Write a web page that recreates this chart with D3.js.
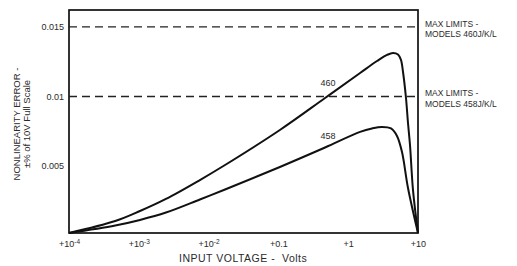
<!DOCTYPE html>
<html>
<head>
<meta charset="utf-8">
<script src="https://cdn.jsdelivr.net/npm/d3@7"></script>
<style>
  body {margin: 0; background: #fff;}
  svg {display: block; font-family: "Liberation Sans", Arial, sans-serif;}
  text {fill: #2a2a2a;}
</style>
</head>
<body>
<script>
const svgWidth = 517
const svgHeight = 266

// data
const xTicks = [1e-4, 1e-3, 1e-2, 0.1, 1, 10]
const xTickBase = ['+10', '+10', '+10', '+0.1', '+1', '+10']
const xTickExp = ['-4', '-3', '-2', '', '', '']
const yTicks = [0.005, 0.01, 0.015]
const yTickLabels = ['0.005', '0.01', '0.015']
const limits = [0.015, 0.01]
const limitLabels = [['MAX LIMITS -', 'MODELS 460J/K/L'], ['MAX LIMITS -', 'MODELS 458J/K/L']]

const volts460 = [1e-4, 4.6e-4, 1.04e-3, 2.45e-3, 7.5e-3, 0.0172, 0.105, 0.466, 1.48, 2.59, 3.6, 4.38, 5.17, 5.7, 6.1, 6.73, 7.19, 7.68, 8.48, 10]
const error460 = [0, 0.00104, 0.00176, 0.00263, 0.00399, 0.00507, 0.00759, 0.00989, 0.01169, 0.01255, 0.01299, 0.01313, 0.01302, 0.01263, 0.01176, 0.00989, 0.00809, 0.00651, 0.00327, 0]
const volts458 = [1e-4, 4.6e-4, 1.04e-3, 2.45e-3, 7.5e-3, 0.0172, 0.105, 0.466, 1.48, 2.19, 3.05, 4.1, 5.0, 5.9, 7.19, 10]
const error458 = [0, 0.00072, 0.00112, 0.00165, 0.00259, 0.00331, 0.00493, 0.00633, 0.00745, 0.0077, 0.00781, 0.0077, 0.00716, 0.006, 0.00342, 0]

const svg = d3.select('body').append('svg')
  .attr('width', svgWidth).attr('height', svgHeight)

const margin = {top: 10, right: 99, bottom: 33, left: 69}
const width = svgWidth - margin.left - margin.right
const height = svgHeight - margin.top - margin.bottom

const g = svg.append('g')
  .attr('transform', `translate(${margin.left},${margin.top})`)

const x = d3.scaleLog().domain([1e-4, 10]).range([0, width])
const y = d3.scaleLinear().domain([0.00018, 0.01622]).range([height, 0]).clamp(true)

// frame
g.append('rect')
  .attr('width', width).attr('height', height)
  .attr('fill', 'none').attr('stroke', '#111').attr('stroke-width', 1.7)

// x axis labels
const xAxis = g.append('g')
  .attr('transform', `translate(0,${height})`)
  .call(d3.axisBottom(x).tickValues(xTicks).tickSize(0).tickPadding(8).tickFormat(''))
xAxis.select('.domain').remove()
xAxis.selectAll('.tick text').each(function (d, i) {
  const t = d3.select(this).attr('font-size', 9).attr('fill', '#2a2a2a')
  t.append('tspan').text(xTickBase[i])
  if (xTickExp[i]) {
    t.append('tspan').attr('font-size', 6.5).attr('dy', -3).text(xTickExp[i])
  }
})

// y axis labels
const yAxis = g.append('g')
  .call(d3.axisLeft(y).tickValues(yTicks).tickSize(0).tickPadding(5)
    .tickFormat((d, i) => yTickLabels[i]))
yAxis.select('.domain').remove()
yAxis.selectAll('.tick text').attr('font-size', 9).attr('fill', '#2a2a2a')

// dashed max limit lines
g.selectAll('.limit').data(limits).enter().append('line')
  .attr('class', 'limit')
  .attr('x1', 0).attr('x2', width)
  .attr('y1', d => y(d)).attr('y2', d => y(d))
  .attr('stroke', '#222').attr('stroke-width', 1.3)
  .attr('stroke-dasharray', '8,5')

g.selectAll('.limit-label').data(limits).enter().append('text')
  .attr('class', 'limit-label')
  .attr('x', width + 7)
  .attr('y', d => y(d))
  .attr('font-size', 8.5)
  .each(function (d, i) {
    d3.select(this).selectAll('tspan').data(limitLabels[i]).enter().append('tspan')
      .attr('x', width + 7)
      .attr('dy', (t, j) => j === 0 ? 0 : 10.5)
      .text(t => t)
  })

// curves
const line = d3.line()
  .x(d => x(d[0])).y(d => y(d[1]))
  .curve(d3.curveCatmullRom.alpha(0.5))

g.append('path')
  .datum(d3.zip(volts460, error460))
  .attr('d', line)
  .attr('fill', 'none').attr('stroke', '#111').attr('stroke-width', 2)

g.append('path')
  .datum(d3.zip(volts458, error458))
  .attr('d', line)
  .attr('fill', 'none').attr('stroke', '#111').attr('stroke-width', 2)

// curve labels
g.append('text').attr('x', x(0.514)).attr('y', y(0.01076))
  .attr('text-anchor', 'middle').attr('font-size', 9).text('460')
g.append('text').attr('x', x(0.514)).attr('y', y(0.00694))
  .attr('text-anchor', 'middle').attr('font-size', 9).text('458')

// axis titles
svg.append('text')
  .attr('x', 179).attr('y', 262)
  .attr('font-size', 10.5).attr('letter-spacing', 0.5)
  .attr('xml:space', 'preserve')
  .text('INPUT VOLTAGE -  Volts')

const yTitle = svg.append('text')
  .attr('transform', 'translate(20,124) rotate(-90)')
  .attr('text-anchor', 'middle').attr('font-size', 9.5)
yTitle.append('tspan').attr('x', 0).attr('y', 0).text('NONLINEARITY ERROR -')
yTitle.append('tspan').attr('x', 0).attr('y', 10).text('±% of 10V Full Scale')
</script>
</body>
</html>
